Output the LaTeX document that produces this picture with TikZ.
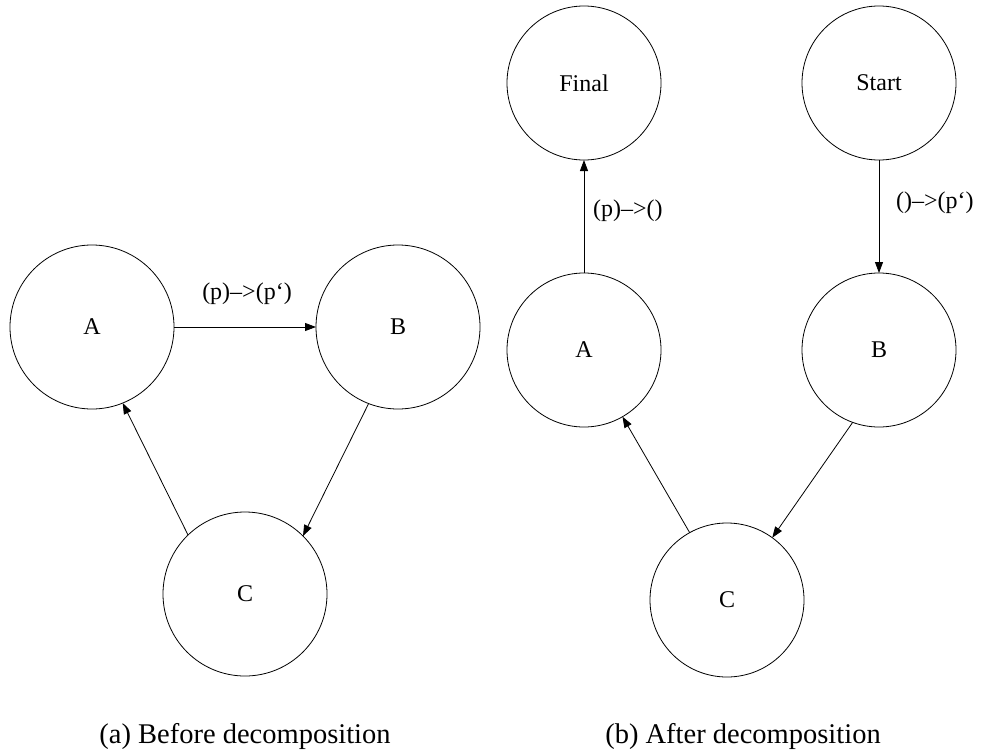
\documentclass[tikz,border=0pt]{standalone}
\usepackage{fontspec}
\setmainfont{Liberation Serif}
\usetikzlibrary{arrows.meta}
\begin{document}
\begin{tikzpicture}[x=1pt,y=-1pt,
  statebig/.style={circle,draw,line width=0.8pt,minimum size=164pt,inner sep=0pt,outer sep=0pt,font=\fontsize{24}{28}\selectfont},
  statesmall/.style={circle,draw,line width=0.8pt,minimum size=154pt,inner sep=0pt,outer sep=0pt,font=\fontsize{24}{28}\selectfont},
  edgelbl/.style={font=\fontsize{24}{28}\selectfont,inner sep=0pt},
  caplbl/.style={font=\fontsize{28.5}{32}\selectfont,inner sep=0pt},
  conn/.style={line width=0.8pt,-{Triangle[length=11pt,width=8pt]}}]
\path[use as bounding box] (0,0) rectangle (981,752);
% (a)
\node[statebig] (A1) at (92,327) {A};
\node[statebig] (B1) at (398,327) {B};
\node[statebig] (C1) at (245,594) {C};
\draw[conn] (A1) -- (B1);
\draw[conn] (B1.-111) -- (C1.45.5);
\draw[conn] (C1.134.5) -- (A1.-68.6);
\node[edgelbl] (l1) at (247,294) {(p)–>(p‘)};
% (b)
\node[statesmall] (F2) at (584,83) {Final};
\node[statesmall] (S2) at (879,83) {Start};
\node[statesmall] (A2) at (584,350) {A};
\node[statesmall] (B2) at (879,350) {B};
\node[statesmall] (C2) at (727,600) {C};
\draw[conn] (A2) -- (F2);
\draw[conn] (S2) -- (B2);
\draw[conn] (B2.-110.6) -- (C2.54.4);
\draw[conn] (C2.119.9) -- (A2.-60);
\node[edgelbl,anchor=west] (l2) at (593,211) {(p)–>()};
\node[edgelbl,anchor=west] (l3) at (896,203) {()–>(p‘)};
% captions
\node[caplbl] (capa) at (245,736) {(a) Before decomposition};
\node[caplbl] (capb) at (743,736) {(b) After decomposition};
\end{tikzpicture}
\end{document}
